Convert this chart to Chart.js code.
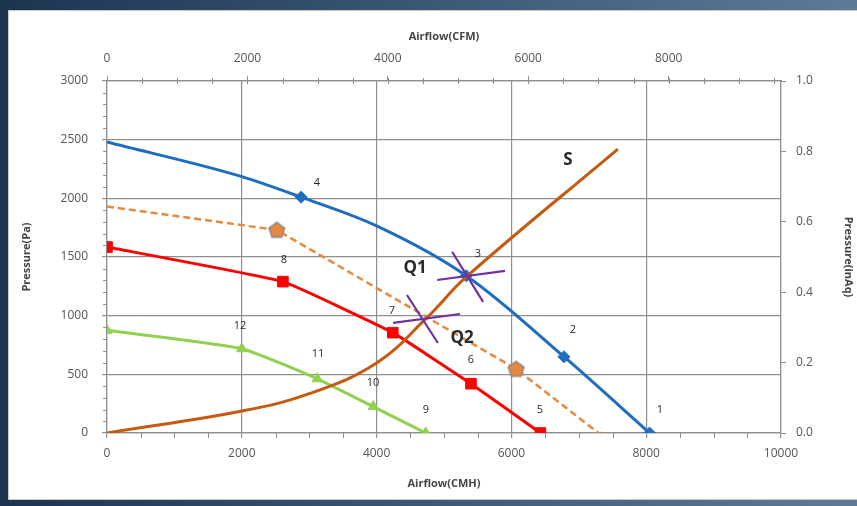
<!DOCTYPE html>
<html>
<head>
<meta charset="utf-8">
<script src="https://cdn.jsdelivr.net/npm/chart.js@4.4.1/dist/chart.umd.min.js"></script>
<style>
  html, body { margin: 0; padding: 0; }
  body {
    width: 857px; height: 506px; overflow: hidden; position: relative;
    background: linear-gradient(90deg, #1d3450 0%, #3b5876 50%, #5d7b96 100%);
  }
  #panel {
    position: absolute; left: 8px; top: 10px; width: 860px; height: 490px;
    background: #fff; border: 1px solid #c8c8c8; box-sizing: border-box;
  }
  #chart { position: absolute; left: 0; top: 0; }
</style>
</head>
<body>
<div id="panel"></div>
<canvas id="chart" width="857" height="506"></canvas>
<script>
// fan curves, airflow in CMH, pressure in Pa
const blueX = [0, 2000, 2880, 4000, 5330, 6780, 8050];
const blueY = [2480, 2185, 2010, 1765, 1340, 650, 0];
const blueMarks = [2, 4, 5, 6];

const orangeX = [0, 2520, 6070, 7290];
const orangeY = [1930, 1730, 545, 0];
const orangeMarks = [1, 2];

const redX = [0, 2610, 4240, 5400, 6430];
const redY = [1585, 1290, 855, 420, 0];

const greenX = [0, 2000, 3120, 3950, 4730];
const greenY = [875, 718, 462, 225, 0];

// system curve S
const sysX = [0, 2000, 3000, 4000, 4750, 5330, 7580];
const sysY = [0, 187, 335, 597, 985, 1330, 2420];

// operating point crosses (two strokes each)
const q1a = [[5120, 1545], [5580, 1117]];
const q1b = [[4900, 1304], [5905, 1381]];
const q2a = [[4450, 1176], [4910, 767]];
const q2b = [[4245, 938], [5237, 1014]];

// point labels
const numTexts = ["1", "2", "3", "4", "5", "6", "7", "8", "9", "10", "11", "12"];
const numX = [8205, 6914, 5504, 3116, 6424, 5400, 4228, 2626, 4733, 3947, 3131, 1973];
const numY = [196, 878, 1525, 2130, 196, 622, 1040, 1474, 196, 426, 673, 912];
const bigTexts = ["S", "Q1", "Q2"];
const bigX = [6840, 4570, 5270];
const bigY = [2327, 1406, 810];

const xTicks = [0, 2000, 4000, 6000, 8000, 10000];
const cfmTicks = [0, 2000, 4000, 6000, 8000];

const pts = (xs, ys) => xs.map((x, i) => ({ x, y: ys[i] }));
const seg = s => s.map(p => ({ x: p[0], y: p[1] }));

// pentagon marker
function pentagon(size, fill, stroke) {
  const c = document.createElement("canvas");
  c.width = size; c.height = size;
  const g = c.getContext("2d");
  const r = size / 2 - 1.5;
  g.beginPath();
  for (let i = 0; i < 5; i++) {
    const a = -Math.PI / 2 + i * 2 * Math.PI / 5;
    const px = size / 2 + r * Math.cos(a), py = size / 2 + 0.5 + r * Math.sin(a);
    i ? g.lineTo(px, py) : g.moveTo(px, py);
  }
  g.closePath();
  g.fillStyle = fill; g.fill();
  g.lineWidth = 2; g.strokeStyle = stroke; g.stroke();
  return c;
}
const pent = pentagon(19, "#e5893e", "#a08c80");

const gridColor = "#8f8f8f";
const tickFont = { family: "Open Sans", size: 12 };
const titleFont = { family: "Open Sans", size: 11, weight: "bold" };
const plain = v => String(v);

const extras = {
  id: "extras",
  afterDatasetsDraw(chart) {
    const { ctx, chartArea: a, scales } = chart;
    const sx = scales.x, sy = scales.y, st = scales.x2;
    ctx.save();
    // minor ticks
    ctx.strokeStyle = gridColor;
    ctx.lineWidth = 1;
    ctx.beginPath();
    for (let v = 100; v < 3000; v += 100) {
      if (v % 500 === 0) continue;
      const y = Math.round(sy.getPixelForValue(v)) + 0.5;
      ctx.moveTo(a.left - 4, y); ctx.lineTo(a.left, y);
    }
    for (let v = 500; v < 10000; v += 500) {
      if (v % 2000 === 0) continue;
      const x = Math.round(sx.getPixelForValue(v)) + 0.5;
      ctx.moveTo(x, a.bottom); ctx.lineTo(x, a.bottom + 5);
    }
    for (let v = 500; v < st.max; v += 500) {
      const x = Math.round(st.getPixelForValue(v)) + 0.5;
      ctx.moveTo(x, a.top - 3); ctx.lineTo(x, a.top + 3);
    }
    ctx.stroke();

    // labels
    ctx.fillStyle = "#2a2a2a";
    ctx.textAlign = "center";
    ctx.textBaseline = "middle";
    ctx.font = "11px 'Open Sans'";
    numTexts.forEach((t, i) => {
      ctx.fillText(t, sx.getPixelForValue(numX[i]), sy.getPixelForValue(numY[i]));
    });
    ctx.font = "bold 17px 'Open Sans'";
    bigTexts.forEach((t, i) => {
      ctx.fillText(t, sx.getPixelForValue(bigX[i]), sy.getPixelForValue(bigY[i]));
    });
    ctx.restore();
  }
};

const crossStyle = {
  borderColor: "#7030a0", borderWidth: 2.2, pointRadius: 0, tension: 0, fill: false
};

new Chart(document.getElementById("chart"), {
  type: "line",
  data: {
    datasets: [
      { ...crossStyle, data: seg(q1a) },
      { ...crossStyle, data: seg(q1b) },
      { ...crossStyle, data: seg(q2a) },
      { ...crossStyle, data: seg(q2b) },
      {
        data: pts(sysX, sysY),
        borderColor: "#c55a11", borderWidth: 3,
        tension: 0.4, pointRadius: 0
      },
      {
        data: pts(greenX, greenY),
        borderColor: "#92d050", backgroundColor: "#92d050", borderWidth: 3,
        tension: 0.15, pointStyle: "triangle", pointRadius: 6, pointBorderWidth: 1
      },
      {
        data: pts(redX, redY),
        borderColor: "#ff0000", backgroundColor: "#ff0000", borderWidth: 3,
        tension: 0.1, pointStyle: "rect", pointRadius: 7.5, pointBorderWidth: 1
      },
      {
        data: pts(orangeX, orangeY),
        borderColor: "#e7893f", borderWidth: 2.5, borderDash: [7, 4],
        tension: 0, pointStyle: pent,
        pointRadius: c => orangeMarks.includes(c.dataIndex) ? 9 : 0
      },
      {
        data: pts(blueX, blueY),
        borderColor: "#1f6dbf", backgroundColor: "#1f6dbf", borderWidth: 3,
        cubicInterpolationMode: "monotone", pointStyle: "rectRot",
        pointRadius: c => blueMarks.includes(c.dataIndex) ? 6 : 0, pointBorderWidth: 1
      }
    ]
  },
  options: {
    responsive: false,
    animation: false,
    layout: { padding: { left: 18, top: 28, right: 0, bottom: 14 } },
    plugins: { legend: { display: false }, tooltip: { enabled: false } },
    scales: {
      x: {
        type: "linear", position: "bottom", min: 0, max: 10000,
        afterBuildTicks: s => { s.ticks = xTicks.map(v => ({ value: v })); },
        afterFit: s => { s.height = 59; },
        grid: { color: gridColor, lineWidth: 1.2, tickLength: 5 },
        border: { color: gridColor, width: 1.2 },
        ticks: { color: "#555", font: tickFont, padding: 8, maxRotation: 0, callback: plain },
        title: { display: true, text: "Airflow(CMH)", color: "#444", font: titleFont, padding: { top: 0, bottom: 2 } }
      },
      x2: {
        type: "linear", position: "top", min: 0, max: 9600,
        afterBuildTicks: s => { s.ticks = cfmTicks.map(v => ({ value: v })); },
        afterFit: s => { s.height = 53; },
        grid: { drawOnChartArea: false, color: gridColor, tickLength: 5 },
        border: { color: gridColor, width: 1.2 },
        ticks: { color: "#555", font: tickFont, padding: 10, maxRotation: 0, callback: plain },
        title: { display: true, text: "Airflow(CFM)", color: "#444", font: titleFont, padding: { top: 2, bottom: 0 } }
      },
      y: {
        type: "linear", position: "left", min: 0, max: 3000,
        ticks: { stepSize: 500, color: "#555", font: tickFont, padding: 14, callback: plain },
        afterFit: s => { s.width = 89; },
        grid: { color: gridColor, lineWidth: 1.2, tickLength: 5 },
        border: { color: gridColor, width: 1.2 },
        title: { display: true, text: "Pressure(Pa)", color: "#444", font: titleFont, padding: { top: 2, bottom: 0 } }
      },
      y2: {
        type: "linear", position: "right", min: 0, max: 1,
        ticks: { stepSize: 0.2, color: "#555", font: tickFont, padding: 10, callback: v => v.toFixed(1) },
        afterFit: s => { s.width = 76; },
        grid: { drawOnChartArea: false, color: gridColor, tickLength: 5 },
        border: { color: gridColor, width: 1.2 },
        title: { display: true, text: "Pressure(inAq)", color: "#444", font: titleFont, padding: { top: 2, bottom: 0 } }
      }
    }
  },
  plugins: [extras]
});
</script>
</body>
</html>
